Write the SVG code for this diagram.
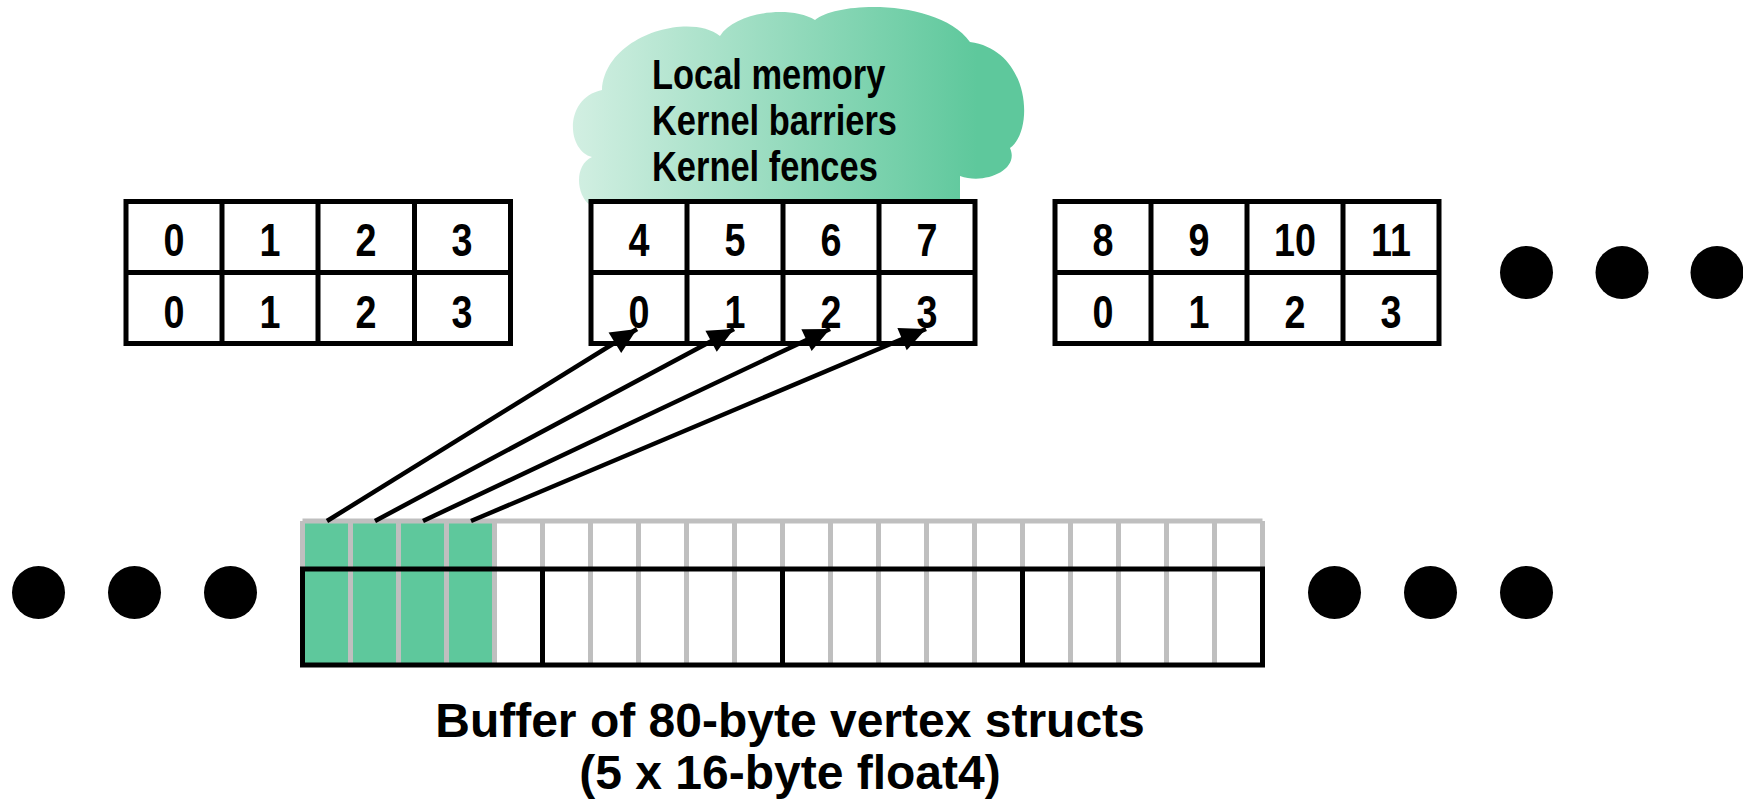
<svg xmlns="http://www.w3.org/2000/svg" width="1743" height="801" viewBox="0 0 1743 801">
<style>
.tbl{fill:#fff;stroke:#000;stroke-width:5}
.ln{stroke:#000;stroke-width:5;fill:none}
.num{font-family:"Liberation Sans",Arial,sans-serif;font-weight:bold;font-size:46px;text-anchor:middle;fill:#000}
.cl{font-family:"Liberation Sans",Arial,sans-serif;font-weight:bold;font-size:42px;fill:#000}
.cap{font-family:"Liberation Sans",Arial,sans-serif;font-weight:bold;font-size:48px;text-anchor:middle;fill:#000}
.gray{stroke:#bfbfbf;stroke-width:5;fill:none}
.green{fill:#5ec89c}
.dot{fill:#000}
.arr{stroke:#000;stroke-width:4.5;fill:none;marker-end:url(#ah)}
</style>
<defs>
<linearGradient id="cg" gradientUnits="userSpaceOnUse" x1="573" y1="0" x2="1022" y2="0">
<stop offset="0" stop-color="#d2efe2"/>
<stop offset="0.9" stop-color="#5ec89c"/>
<stop offset="1" stop-color="#5ec89c"/>
</linearGradient>
<marker id="ah" markerUnits="userSpaceOnUse" markerWidth="28" markerHeight="26" refX="26" refY="12" orient="auto" overflow="visible">
<path d="M0,0 L26,12 L0,24 Z" fill="#000"/>
</marker>
</defs>

<g id="cloud">
<path d="M590,205 C576,195 574,165 592,157 C566,150 564,98 602,90 C605,35 690,12 720,36 C735,12 790,5 815,20 C840,0 940,0 970,42 C1030,50 1035,130 1010,148 C1020,170 985,185 960,176 L960,205 Z" fill="url(#cg)"/>
<text class="cl" transform="translate(652,89) scale(0.82,1)">Local memory</text>
<text class="cl" transform="translate(652,135) scale(0.82,1)">Kernel barriers</text>
<text class="cl" transform="translate(652,181) scale(0.82,1)">Kernel fences</text>
</g>

<g id="table1">
<rect class="tbl" x="126" y="201.5" width="384.5" height="142"/>
<path class="ln" d="M126,272.5H510.5M222,201.5V343.5M318,201.5V343.5M414.5,201.5V343.5"/>
<text class="num" transform="translate(174,256) scale(0.82,1)">0</text><text class="num" transform="translate(270,256) scale(0.82,1)">1</text><text class="num" transform="translate(366,256) scale(0.82,1)">2</text><text class="num" transform="translate(462,256) scale(0.82,1)">3</text>
<text class="num" transform="translate(174,328) scale(0.82,1)">0</text><text class="num" transform="translate(270,328) scale(0.82,1)">1</text><text class="num" transform="translate(366,328) scale(0.82,1)">2</text><text class="num" transform="translate(462,328) scale(0.82,1)">3</text>
</g>

<g id="table2">
<rect class="tbl" x="591" y="201.5" width="384" height="142"/>
<path class="ln" d="M591,272.5H975M687,201.5V343.5M783,201.5V343.5M879,201.5V343.5"/>
<text class="num" transform="translate(639,256) scale(0.82,1)">4</text><text class="num" transform="translate(735,256) scale(0.82,1)">5</text><text class="num" transform="translate(831,256) scale(0.82,1)">6</text><text class="num" transform="translate(927,256) scale(0.82,1)">7</text>
<text class="num" transform="translate(639,328) scale(0.82,1)">0</text><text class="num" transform="translate(735,328) scale(0.82,1)">1</text><text class="num" transform="translate(831,328) scale(0.82,1)">2</text><text class="num" transform="translate(927,328) scale(0.82,1)">3</text>
</g>

<g id="table3">
<rect class="tbl" x="1055" y="201.5" width="384" height="142"/>
<path class="ln" d="M1055,272.5H1439M1151,201.5V343.5M1247,201.5V343.5M1343,201.5V343.5"/>
<text class="num" transform="translate(1103,256) scale(0.82,1)">8</text><text class="num" transform="translate(1199,256) scale(0.82,1)">9</text><text class="num" transform="translate(1295,256) scale(0.82,1)">10</text><text class="num" transform="translate(1391,256) scale(0.82,1)">11</text>
<text class="num" transform="translate(1103,328) scale(0.82,1)">0</text><text class="num" transform="translate(1199,328) scale(0.82,1)">1</text><text class="num" transform="translate(1295,328) scale(0.82,1)">2</text><text class="num" transform="translate(1391,328) scale(0.82,1)">3</text>
</g>

<g id="dots-top">
<circle class="dot" cx="1526.5" cy="272.5" r="26.5"/>
<circle class="dot" cx="1622" cy="272.5" r="26.5"/>
<circle class="dot" cx="1717" cy="272.5" r="26.5"/>
</g>

<g id="dots-left">
<circle class="dot" cx="38.5" cy="592.5" r="26.5"/>
<circle class="dot" cx="134.5" cy="592.5" r="26.5"/>
<circle class="dot" cx="230.5" cy="592.5" r="26.5"/>
</g>

<g id="dots-right">
<circle class="dot" cx="1334.5" cy="592.5" r="26.5"/>
<circle class="dot" cx="1430.5" cy="592.5" r="26.5"/>
<circle class="dot" cx="1526.5" cy="592.5" r="26.5"/>
</g>

<g id="buffer">
<rect class="green" x="302.5" y="521" width="192" height="144"/>
<path class="gray" d="M302.5,521H1262.5M302.5,521V665M350.5,521V665M398.5,521V665M446.5,521V665M494.5,521V665M542.5,521V665M590.5,521V665M638.5,521V665M686.5,521V665M734.5,521V665M782.5,521V665M830.5,521V665M878.5,521V665M926.5,521V665M974.5,521V665M1022.5,521V665M1070.5,521V665M1118.5,521V665M1166.5,521V665M1214.5,521V665M1262.5,521V665"/>
<rect x="302.5" y="569" width="960" height="96" fill="none" stroke="#000" stroke-width="5"/>
<path class="ln" d="M542.5,569V665M782.5,569V665M1022.5,569V665"/>
</g>

<g id="connectors">
<line class="arr" x1="327" y1="521" x2="637" y2="329"/>
<line class="arr" x1="375" y1="521" x2="734" y2="329"/>
<line class="arr" x1="423" y1="521" x2="830" y2="329"/>
<line class="arr" x1="471" y1="521" x2="926" y2="329"/>
</g>

<g id="caption">
<text class="cap" x="790" y="737">Buffer of 80-byte vertex structs</text>
<text class="cap" x="790" y="789">(5 x 16-byte float4)</text>
</g>
</svg>
